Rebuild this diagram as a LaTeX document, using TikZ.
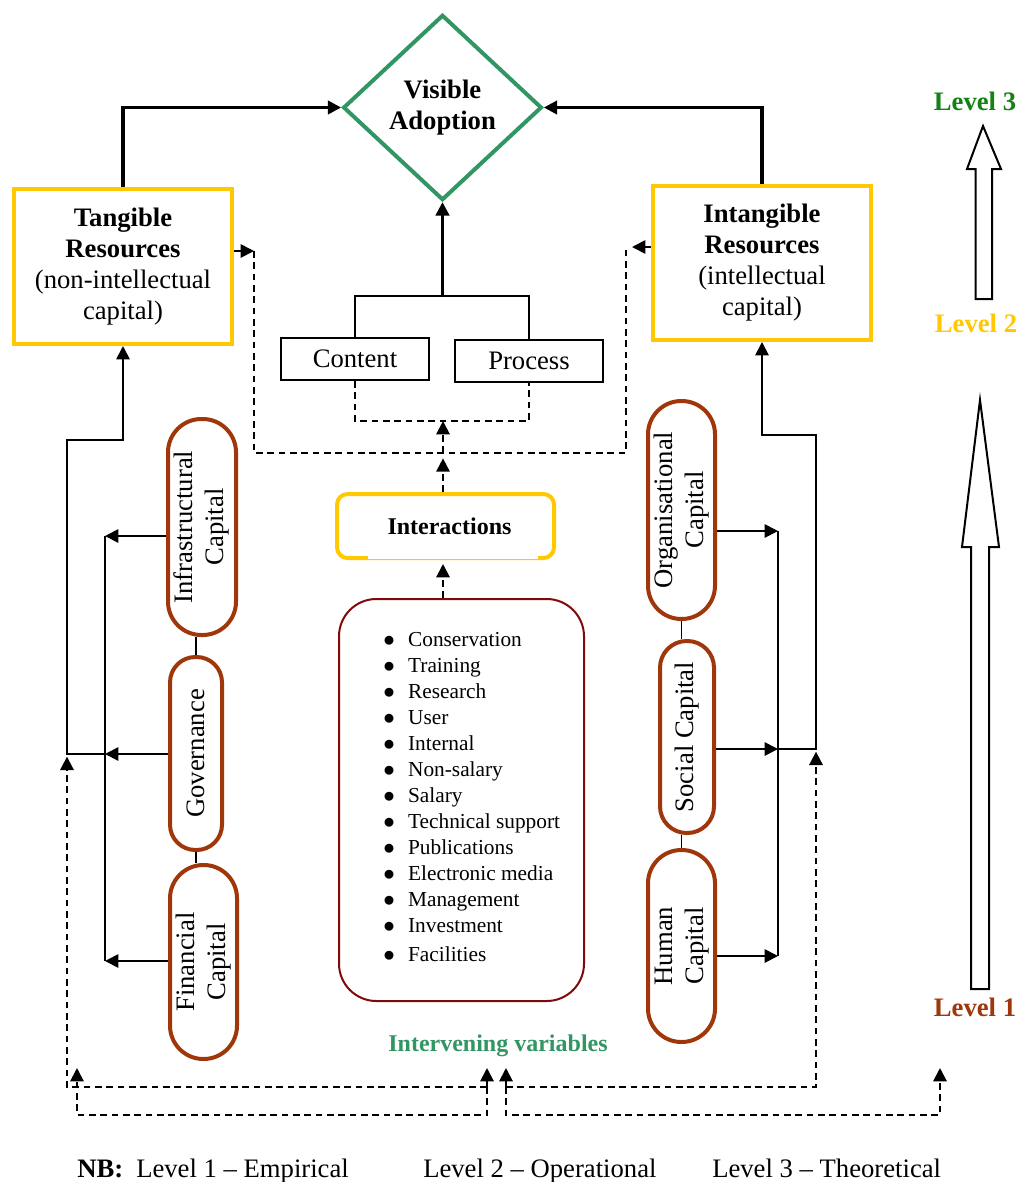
\documentclass[tikz,border=0pt]{standalone}
\usepackage{fontspec}
\setmainfont{Liberation Serif}
\usepackage{graphicx}
\usetikzlibrary{arrows.meta,shapes.geometric,positioning}
\definecolor{adoptgreen}{RGB}{50,150,100}
\definecolor{levelgreen}{RGB}{20,130,20}
\definecolor{resgold}{RGB}{255,200,0}
\definecolor{capbrown}{RGB}{160,55,10}
\definecolor{varmaroon}{RGB}{128,10,10}
\newcommand\bul{$\bullet$\hspace{10pt}}

\begin{document}
\begin{tikzpicture}[x=0.75pt,y=-0.75pt,>={Triangle[length=10pt,width=10pt]}]
  \tikzset{
    resbox/.style={draw=resgold,line width=3pt,minimum width=163.5pt,inner sep=0pt,
                   align=center,font=\fontsize{20}{23.25}\selectfont},
    capsule/.style={draw=capbrown,line width=3pt,rounded corners=#1,inner sep=0pt,
                    font=\fontsize{20}{23.5}\selectfont},
    partbox/.style={draw,line width=1.3pt,minimum width=111pt,minimum height=31.5pt,
                    inner sep=0pt,font=\fontsize{20}{24}\selectfont},
    conn/.style={line width=1.4pt},
    bold conn/.style={line width=2.3pt},
    dsh/.style={line width=1.5pt,dash pattern=on 5pt off 3.5pt},
    lvl/.style={font=\fontsize{20}{24}\selectfont\bfseries},
    nbtext/.style={anchor=base west,inner sep=0pt,font=\fontsize{20}{24}\selectfont}
  }
  \useasboundingbox (0,0) rectangle (1021,1182);

  \node[diamond,draw=adoptgreen,line width=3pt,minimum width=149pt,minimum height=139pt,
        inner sep=0pt,align=center,font=\fontsize{20}{23.25}\selectfont\bfseries]
        (adopt) at (442.5,107.5) {Visible\\Adoption};
  \node[resbox,minimum height=116.25pt] (tang) at (123,266.5)
        {\textbf{Tangible}\\\textbf{Resources}\\(non-intellectual\\capital)};
  \node[resbox,minimum height=115.5pt] (intang) at (762,263)
        {\textbf{Intangible}\\\textbf{Resources}\\(intellectual\\capital)};
  \node[partbox] (content) at (355,359) {Content};
  \node[partbox] (process) at (529,361) {Process};
  \node[draw=resgold,line width=3pt,rounded corners=8pt,minimum width=162.75pt,
        minimum height=48pt,font=\fontsize{18}{22}\selectfont\bfseries]
        (interact) at (445.5,526) {\hspace{6pt}Interactions};
  \draw[white,line width=3.2pt] (368,558) -- (538,558);
  \draw[resgold,line width=0.6pt] (368,559.5) -- (538,559.5);
  \node[draw=varmaroon,line width=1.5pt,rounded corners=28pt,minimum width=183.75pt,
        minimum height=301.5pt] (vars) at (461.5,800) {};
  \node[anchor=west,align=left,inner sep=0pt,font=\fontsize{16}{19.5}\selectfont]
        (items) at (383,797) {\bul Conservation\\
        \bul Training\\
        \bul Research\\
        \bul User\\
        \bul Internal\\
        \bul Non-salary\\
        \bul Salary\\
        \bul Technical support\\
        \bul Publications\\
        \bul Electronic media\\
        \bul Management\\
        \bul Investment\\[2.2pt]
        \bul Facilities};
  \node[font=\fontsize{18}{22}\selectfont\bfseries,text=adoptgreen] (intervening)
        at (498,1046) {Intervening variables};

  \node[capsule=25pt,minimum width=51pt,minimum height=162pt] (infra) at (202,527)
        {\rotatebox{90}{\begin{tabular}{@{}c@{}}Infrastructural\\Capital\end{tabular}}};
  \node[capsule=19pt,minimum width=39pt,minimum height=144.75pt] (gov) at (196,753.5)
        {\rotatebox{90}{Governance}};
  \node[capsule=25pt,minimum width=50.25pt,minimum height=145.5pt] (fin) at (203.5,962)
        {\rotatebox{90}{\begin{tabular}{@{}c@{}}Financial\\Capital\end{tabular}}};
  \node[capsule=25pt,minimum width=50.25pt,minimum height=163.5pt] (org) at (681.5,510)
        {\rotatebox{90}{\begin{tabular}{@{}c@{}}Organisational\\Capital\end{tabular}}};
  \node[capsule=20pt,minimum width=40.5pt,minimum height=144pt] (soc) at (687,737)
        {\rotatebox{90}{Social Capital}};
  \node[capsule=25pt,minimum width=50.25pt,minimum height=144pt] (hum) at (681.5,946)
        {\rotatebox{90}{\begin{tabular}{@{}c@{}}Human\\Capital\end{tabular}}};

  \coordinate (cpjoin) at (440,296);
  \coordinate (bracket) at (442,421);
  \coordinate (loopL) at (254,453);
  \coordinate (loopR) at (626,453);
  \coordinate (loopC) at (443,453);
  \coordinate (tangtap) at (254,251);
  \coordinate (intangtap) at (632,247);
  \coordinate (looptop) at (626,247);
  \coordinate (lbusA) at (105,536);
  \coordinate (lbusB) at (105,754);
  \coordinate (lbusC) at (105,961);
  \coordinate (ljoin) at (67,754);
  \coordinate (lrise) at (67,440);
  \coordinate (rbusA) at (778,531);
  \coordinate (rbusB) at (778,749);
  \coordinate (rbusC) at (778,956);
  \coordinate (rjoin) at (816,749);
  \coordinate (rrise) at (816,435);
  \coordinate (lfoot) at (67,1087);
  \coordinate (midL) at (487,1087);
  \coordinate (midR) at (506,1087);
  \coordinate (rfoot) at (816,1087);

  \draw[bold conn,->] (tang.north) |- (adopt.west);
  \draw[bold conn,->] (intang.north) |- (adopt.east);
  \draw[bold conn,->] (adopt.south |- cpjoin) -- (adopt.south);
  \draw[conn] (content.north) -- (content.north |- cpjoin) -- (process.north |- cpjoin)
        -- (process.north);
  \draw[dsh] (content.south) -- (content.south |- bracket) -- (process.south |- bracket)
        -- (process.south);
  \draw[dsh,->] (loopC) -- (loopC |- bracket);
  \draw[dsh,->,shorten >=4pt] (loopC |- interact.north) -- (loopC);
  \draw[dsh,->,shorten >=3pt] (loopC |- vars.north) -- (loopC |- interact.south);
  \draw[conn,->] (tang.east |- tangtap) -- (tangtap);
  \draw[conn,->] (intang.west |- intangtap) -- (intangtap);
  \draw[dsh] (tangtap) -- (loopL) -- (loopR) -- (looptop);

  \draw[conn] (gov.north) -- (gov.north |- infra.south);
  \draw[conn] (gov.south) -- (gov.south |- fin.north);
  \draw[conn] (org.south) -- (org.south |- soc.north);
  \draw[conn] (hum.north) -- (hum.north |- soc.south);

  \draw[conn,->] (infra.west |- lbusA) -- (lbusA);
  \draw[conn,->] (gov.west |- lbusB) -- (lbusB);
  \draw[conn,->] (fin.west |- lbusC) -- (lbusC);
  \draw[conn] (lbusA) -- (lbusC);
  \draw[conn,->] (lbusB) -- (ljoin) -- (lrise) -- (tang.south |- lrise) -- (tang.south);
  \draw[conn,->] (org.east |- rbusA) -- (rbusA);
  \draw[conn,->] (soc.east |- rbusB) -- (rbusB);
  \draw[conn,->] (hum.east |- rbusC) -- (rbusC);
  \draw[conn] (rbusA) -- (rbusC);
  \draw[conn,->] (rbusB) -- (rjoin) -- (rrise) -- (intang.south |- rrise) -- (intang.south);

  \draw[dsh,->,shorten >=2pt] (midL) -- (lfoot) -- (ljoin);
  \draw[dsh,->] (midL) -- ++(0,-19);
  \draw[dsh,->] (midL) -- (487,1115) -- (77,1115) -- (77,1068);
  \draw[dsh,->,shorten >=2pt] (midR) -- (rfoot) -- (rjoin);
  \draw[dsh,->] (midR) -- ++(0,-19);
  \draw[dsh,->] (midR) -- (506,1115) -- (940,1115) -- (940,1068);

  \draw[line width=1.5pt,fill=white] (975.5,299) -- (975.5,169) -- (967,169) -- (983,126)
        -- (1001,169) -- (992,169) -- (992,299) -- cycle;
  \draw[line width=1.5pt,fill=white] (971,989) -- (971,547) -- (962,547) -- (980,400)
        -- (999,547) -- (989,547) -- (989,989) -- cycle;
  \node[lvl,text=levelgreen] (lvlthree) at (975,101) {Level 3};
  \node[lvl,text=resgold] (lvltwo) at (976,323) {Level 2};
  \node[lvl,text=capbrown] (lvlone) at (975,1007) {Level 1};

  \node[nbtext] (nb) at (77,1177) {\textbf{NB:}};
  \node[nbtext] (nbone) at (136,1177) {Level 1 – Empirical};
  \node[nbtext] (nbtwo) at (423,1177) {Level 2 – Operational};
  \node[nbtext] (nbthree) at (712,1177) {Level 3 – Theoretical};
\end{tikzpicture}
\end{document}
